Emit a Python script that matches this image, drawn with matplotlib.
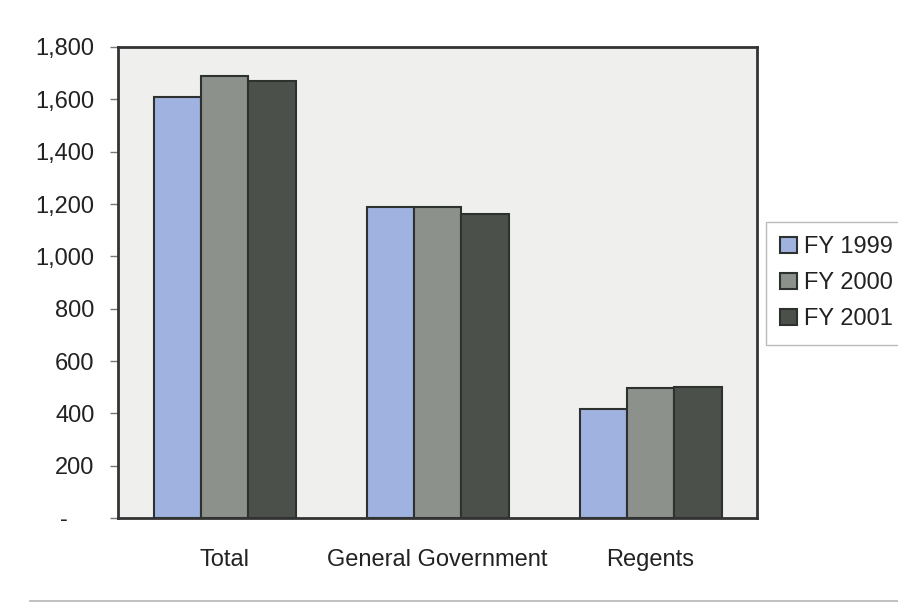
import matplotlib
matplotlib.use("Agg")
import matplotlib.pyplot as plt
from matplotlib.lines import Line2D
from matplotlib import font_manager
import numpy as np

categories = ["Total", "General Government", "Regents"]
series_names = ["FY 1999", "FY 2000", "FY 2001"]
fy1999 = [1608, 1188, 415]
fy2000 = [1690, 1188, 495]
fy2001 = [1670, 1160, 500]
yticks = [0, 200, 400, 600, 800, 1000, 1200, 1400, 1600, 1800]
ytick_labels = ["-    ", "200", "400", "600", "800", "1,000", "1,200", "1,400", "1,600", "1,800"]

colors = ["#9fb2e0", "#8c918b", "#4b504b"]

avail = {f.name for f in font_manager.fontManager.ttflist}
fam = "Liberation Sans Narrow" if "Liberation Sans Narrow" in avail else "Liberation Sans"
plt.rcParams["font.family"] = [fam, "DejaVu Sans"]

fig = plt.figure(figsize=(8.98, 6.05), dpi=100)
ax = fig.add_axes([118/898, 1-518/605, (757-118)/898, (518-47)/605])
ax.set_facecolor("#efefee")

x = np.arange(len(categories))
w = 1/4.5
for i, (vals, name) in enumerate(zip([fy1999, fy2000, fy2001], series_names)):
    ax.bar(x + (i-1)*w, vals, width=w, color=colors[i], edgecolor="#2e322e",
           linewidth=1.5, label=name, zorder=2)

ax.set_xlim(-0.5, 2.5)
ax.set_ylim(0, 1800)
ax.set_yticks(yticks)
ax.set_yticklabels(ytick_labels, fontsize=17, color="#222222")
ax.set_xticks(x)
ax.set_xticklabels(categories, fontsize=17, color="#222222")
ax.tick_params(axis="x", length=0, pad=22)
ax.tick_params(axis="y", length=6, width=1, color="#777777", pad=11)
for sp in ax.spines.values():
    sp.set_linewidth(2)
    sp.set_color("#333333")

leg = ax.legend(loc="upper left", bbox_to_anchor=(766/898, 1-222/605),
                bbox_transform=fig.transFigure, fontsize=17, frameon=True,
                fancybox=False, edgecolor="#aaaaaa", handlelength=0.7,
                handleheight=0.7, handletextpad=0.3, labelspacing=0.6,
                borderpad=0.6, borderaxespad=0)
leg.get_frame().set_linewidth(1)
for t in leg.get_texts():
    t.set_color("#222222")

fig.add_artist(Line2D([30/898, 1], [1-601/605, 1-601/605], color="#b5b5b5", lw=1.2,
                      transform=fig.transFigure))

fig.savefig("out.png", dpi=100)
